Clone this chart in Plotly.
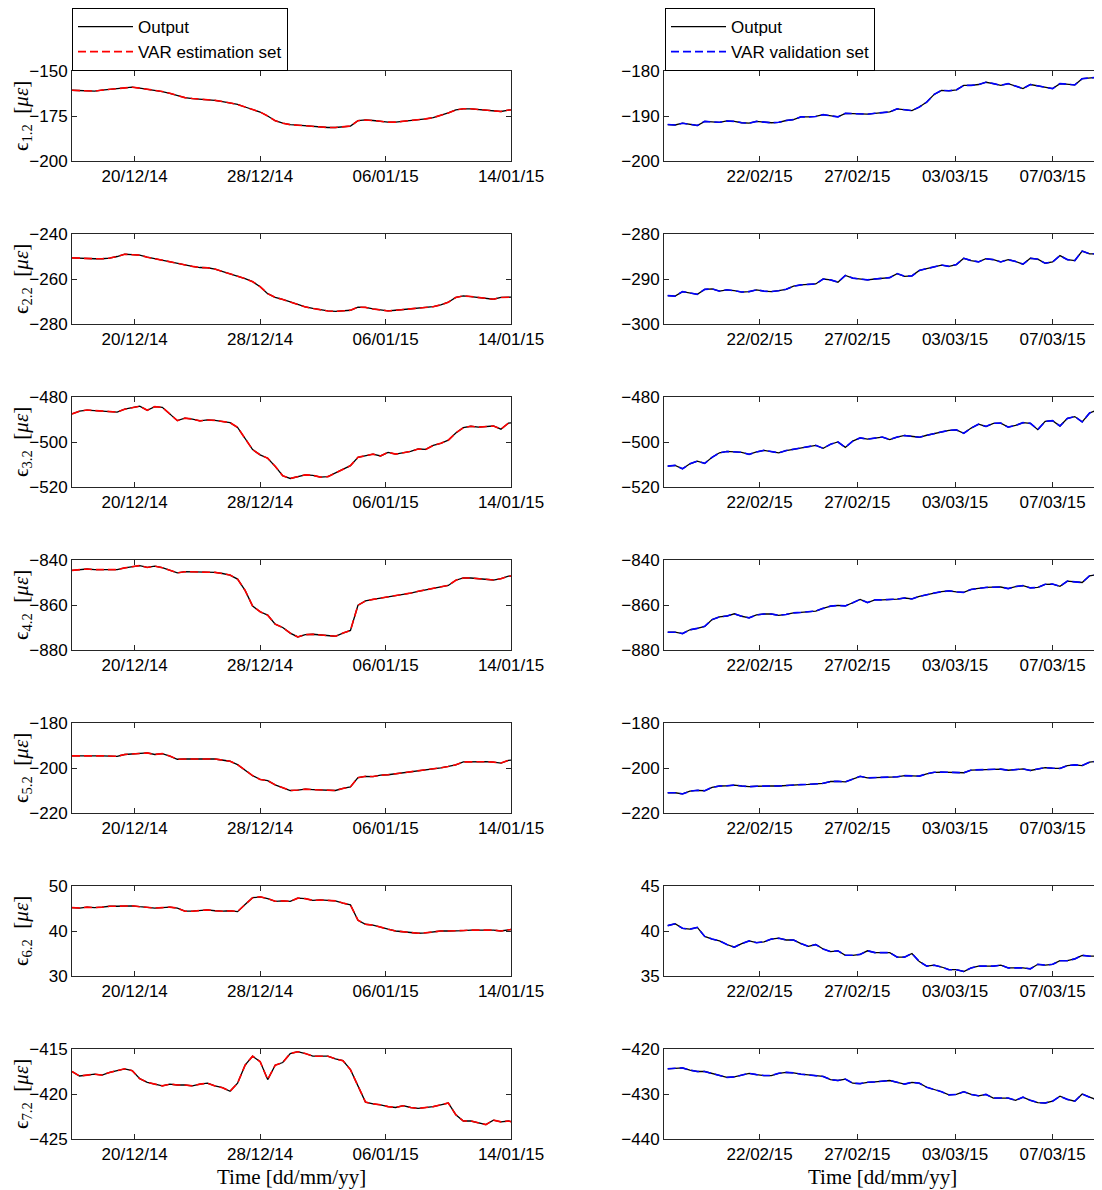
import pandas as pd
import plotly.graph_objects as go
from plotly.subplots import make_subplots

# sample times (estimation set every 12 h, validation set every 8 h)
est_time = pd.date_range("2014-12-16 08:00", periods=60, freq="12h")
val_time = pd.date_range("2015-02-18 12:40", periods=60, freq="8h")

# estimation set (left column)
est_1 = [-160.7, -160.8, -161, -161.2, -160.6, -160.2, -159.7, -159.2, -159, -159.5,
         -160.1, -160.6, -161.4, -162.4, -163.8, -164.8, -165.3, -165.6, -165.8, -166.3,
         -167, -167.6, -168.6, -170, -171.2, -172.8, -175, -177.6, -179, -179.8,
         -180.1, -180.5, -180.8, -181.2, -181.4, -181.4, -181.2, -180.6, -177.6, -177.2,
         -177.5, -178.1, -178.4, -178.4, -178, -177.8, -177.4, -176.6, -175.9, -174.8,
         -173.3, -171.6, -171, -171, -171.3, -171.8, -172.3, -172.5, -171.7, -171.5]
est_2 = [-250.6, -250.8, -250.8, -251, -251, -250.7, -250, -249, -249.2, -249.4,
         -250.3, -251, -251.8, -252.5, -252.9, -253.6, -254.4, -254.9, -255, -255.6,
         -256.6, -257.5, -258.6, -259.8, -261.2, -263.4, -266.5, -268.2, -269.1, -270.2,
         -271.6, -272.4, -273.1, -273.8, -274.2, -274.4, -274.3, -273.9, -272.5, -272.6,
         -273.3, -273.7, -274.2, -273.9, -273.6, -273.3, -273, -272.8, -272.3, -271.5,
         -270.3, -268.2, -267.5, -267.8, -268.3, -268.7, -269, -268.2, -268.1, -268]
est_3 = [-487.5, -486.3, -485.8, -486, -486.1, -486.3, -486.7, -485.4, -484.8, -484.1,
         -485.9, -484.3, -484.6, -487.5, -490.5, -489.4, -489.8, -490.6, -490.2, -490.4,
         -490.8, -491.4, -493.5, -498.4, -503.4, -505.7, -507.2, -510.8, -515, -516.2,
         -515.3, -514.6, -514.8, -515.6, -515.4, -513.8, -512.3, -510.5, -506.8, -506.2,
         -505.4, -506.2, -504.6, -505.4, -504.9, -504.2, -503.1, -503.3, -501.5, -500.6,
         -499.2, -496, -493.6, -493, -493.4, -493.3, -492.9, -494.3, -491.6, -491.3]
est_4 = [-844.6, -844.3, -844, -844.3, -844.4, -844.5, -844.3, -843.5, -843, -842.5,
         -843.3, -842.7, -843.4, -844.5, -845.7, -845.2, -845.2, -845.3, -845.3, -845.5,
         -846, -846.7, -848.5, -853.5, -860.5, -863, -864.5, -868.5, -870, -872.5,
         -874.2, -873.2, -873, -873.3, -873.4, -873.9, -872.5, -871.3, -860.1, -858.2,
         -857.5, -857, -856.5, -855.9, -855.4, -854.7, -853.9, -853.3, -852.6, -852,
         -851.3, -849, -848, -848, -848.3, -848.6, -848.9, -848.3, -847.2, -847]
est_5 = [-194.6, -194.5, -194.6, -194.6, -194.6, -194.6, -194.8, -194, -193.8, -193.5,
         -193.3, -194, -193.6, -194.7, -196.1, -196, -195.9, -195.9, -196, -196,
         -196.4, -197, -198.5, -200.9, -203.4, -205.1, -205.6, -207.5, -208.9, -210,
         -209.8, -209.4, -209.6, -209.7, -209.9, -210, -209.1, -208.4, -204.3, -203.7,
         -203.8, -203.2, -203, -202.6, -202.2, -201.8, -201.4, -201, -200.5, -199.9,
         -199.3, -198.6, -197.3, -197.2, -197.3, -197.2, -197.4, -197.8, -196.6, -196.4]
est_6 = [45.2, 45.1, 45.3, 45.2, 45.3, 45.5, 45.5, 45.5, 45.6, 45.4,
         45.2, 45.1, 45.2, 45.3, 45.1, 44.4, 44.4, 44.5, 44.7, 44.5,
         44.4, 44.5, 44.3, 45.9, 47.4, 47.6, 47.2, 46.6, 46.7, 46.6,
         47.3, 47.2, 46.8, 46.9, 46.8, 46.7, 46.2, 45.8, 42.4, 41.5,
         41.3, 40.8, 40.4, 40, 39.8, 39.7, 39.5, 39.6, 39.8, 40,
         40, 40, 40.1, 40.2, 40.2, 40.1, 40.2, 40, 40.3, 40.5]
est_7 = [-417.5, -418, -417.9, -417.8, -417.9, -417.6, -417.4, -417.2, -417.4, -418.3,
         -418.7, -418.9, -419.1, -418.9, -419, -419, -419.1, -418.9, -418.8, -419.1,
         -419.3, -419.7, -418.8, -416.8, -415.8, -416.4, -418.4, -416.8, -416.5, -415.5,
         -415.3, -415.5, -415.8, -415.8, -415.8, -416.1, -416.3, -417.3, -419.2, -420.9,
         -421.1, -421.2, -421.4, -421.5, -421.3, -421.5, -421.6, -421.5, -421.4, -421.2,
         -421, -422.3, -423, -423, -423.2, -423.4, -422.9, -423.1, -423, -423.2]

# validation set (right column)
val_1 = [-191.9, -192, -191.6, -191.8, -192.1, -191.2, -191.3, -191.4, -191.1, -191.2,
         -191.5, -191.6, -191.2, -191.4, -191.5, -191.4, -191, -190.8, -190.2, -190.2,
         -190.1, -189.7, -190, -190.2, -189.4, -189.5, -189.5, -189.6, -189.4, -189.3,
         -189.1, -188.4, -188.6, -188.8, -188, -186.9, -185.2, -184.3, -184.4, -184.2,
         -183.2, -183.2, -183, -182.5, -182.8, -183.2, -182.8, -183.3, -183.9, -183,
         -183.3, -183.7, -183.9, -182.8, -182.9, -183.1, -181.7, -181.5, -181.4, -180.2]
val_2 = [-293.7, -293.8, -292.8, -293.1, -293.4, -292.3, -292.2, -292.7, -292.4, -292.6,
         -292.9, -292.8, -292.4, -292.7, -292.8, -292.6, -292.3, -291.6, -291.3, -291.2,
         -291.1, -290, -290.2, -290.7, -289.2, -289.8, -290, -290.2, -290, -289.9,
         -289.7, -288.8, -289.4, -289.3, -288.1, -287.7, -287.3, -286.9, -287.2, -286.8,
         -285.4, -285.9, -286.2, -285.5, -285.7, -286.2, -285.7, -286.1, -286.7, -285.4,
         -285.6, -286.5, -286.2, -284.8, -285.7, -285.9, -283.8, -284.4, -284.4, -282.4]
val_3 = [-510.7, -510.4, -511.9, -509.7, -508.5, -509.5, -506.8, -504.8, -504.2, -504.3,
         -504.6, -505.5, -504.4, -503.7, -504.3, -504.8, -503.8, -503.3, -502.5, -502,
         -501.5, -502.8, -501, -500, -502.4, -499.6, -498.2, -498.7, -498.3, -497.8,
         -498.9, -497.8, -497.1, -497.4, -497.9, -497, -496.3, -495.8, -494.8, -494.6,
         -496.1, -493.8, -492.1, -493.1, -491.7, -491.6, -493.4, -492.6, -491.4, -491.7,
         -494.5, -490.8, -490.5, -492.9, -489.5, -488.7, -491.1, -487.1, -485.8, -487.6]
val_4 = [-872.1, -872.1, -872.7, -871, -870.4, -869.5, -866.5, -865.3, -864.9, -863.9,
         -865, -865.7, -864.4, -864, -864, -864.6, -864.2, -863.5, -863.3, -863,
         -862.7, -861.5, -860.5, -860.2, -860.4, -859, -857.5, -858.9, -857.7, -857.7,
         -857.7, -857.4, -856.9, -857.3, -856.2, -855.3, -854.7, -854.1, -853.7, -854.2,
         -854.4, -853.1, -852.5, -852.2, -852.1, -852, -852.7, -851.8, -851.4, -852.4,
         -852.2, -850.8, -850.7, -851.7, -849.4, -849.6, -850, -847, -846.5, -847.6]
val_5 = [-211, -211, -211.5, -210.3, -209.9, -210.1, -208.6, -208, -207.9, -207.6,
         -208, -208.3, -208.1, -207.9, -208, -208, -207.7, -207.5, -207.4, -207.3,
         -207.1, -206.8, -206, -205.9, -206.2, -204.8, -203.7, -204.4, -204.3, -204.2,
         -204, -203.9, -203.4, -203.5, -203.6, -202.6, -201.9, -201.8, -201.8, -201.8,
         -202.1, -200.9, -200.8, -200.7, -200.6, -200.5, -201, -200.6, -200.4, -201.1,
         -200.4, -199.8, -200.1, -200.2, -198.9, -198.6, -198.9, -197.4, -197, -197.7]
val_6 = [40.6, 40.8, 40.3, 40.2, 40.4, 39.4, 39.1, 38.9, 38.5, 38.2,
         38.6, 38.9, 38.7, 38.8, 39.1, 39.2, 39, 39, 38.6, 38.3,
         38.5, 38, 37.7, 37.8, 37.3, 37.3, 37.4, 37.8, 37.6, 37.6,
         37.6, 37.1, 37.1, 37.5, 36.6, 36.1, 36.2, 36, 35.7, 35.7,
         35.5, 35.9, 36.1, 36.1, 36.1, 36.2, 35.9, 35.9, 35.9, 35.8,
         36.3, 36.2, 36.3, 36.7, 36.7, 36.9, 37.3, 37.2, 37.2, 37.2]
val_7 = [-424.4, -424.3, -424.2, -424.7, -425, -425, -425.4, -425.8, -426.3, -426.2,
         -425.8, -425.4, -425.7, -425.9, -425.9, -425.4, -425.2, -425.3, -425.6, -425.8,
         -425.9, -426.1, -426.8, -427, -426.7, -427.6, -427.7, -427.4, -427.3, -427.2,
         -427, -427.4, -427.8, -427.4, -427.6, -428.5, -429, -429.5, -430.2, -430.1,
         -429.5, -430.1, -430.4, -430.1, -430.9, -430.9, -430.9, -431.4, -430.7, -431.4,
         -431.9, -432, -431.6, -430.5, -431.2, -431.6, -430, -430.7, -431.3, -430.3]

est_series = [est_1, est_2, est_3, est_4, est_5, est_6, est_7]
val_series = [val_1, val_2, val_3, val_4, val_5, val_6, val_7]

# y limits per row
est_ylim = [(-200, -150), (-280, -240), (-520, -480), (-880, -840), (-220, -180), (30, 50), (-425, -415)]
val_ylim = [(-200, -180), (-300, -280), (-520, -480), (-880, -840), (-220, -180), (35, 45), (-440, -420)]

ylabels = ["1.2", "2.2", "3.2", "4.2", "5.2", "6.2", "7.2"]

est_ticks = ["2014-12-20 12:00", "2014-12-28 20:00", "2015-01-06 04:00", "2015-01-14 12:00"]
est_ticklabels = ["20/12/14", "28/12/14", "06/01/15", "14/01/15"]
val_ticks = ["2015-02-22 16:00", "2015-02-27 01:36", "2015-03-03 11:12", "2015-03-07 20:48"]
val_ticklabels = ["22/02/15", "27/02/15", "03/03/15", "07/03/15"]

# page has an 8px body margin, so the figure is a bit smaller than the window
OFF = 8
W, H = 1102 - OFF, 1190 - OFF
SANS = "Liberation Sans, Arial, sans-serif"
SERIF = "Liberation Serif, Times New Roman, serif"
AXCOL = "#262626"


def px(x):
    return (x - OFF) / W


def py(y):
    return 1 - (y - OFF) / H


fig = make_subplots(rows=7, cols=2)

for i in range(7):
    top = 71 + i * 163
    bot = top + 90
    ydom = [py(bot), py(top)]
    for col, (tt, series, ylim, color, name, leg, ticks, labels, xr) in enumerate([
        (est_time, est_series, est_ylim, "#ff0000", "VAR estimation set", "legend",
         est_ticks, est_ticklabels, ["2014-12-16 08:00", "2015-01-14 12:00"]),
        (val_time, val_series, val_ylim, "#0000ff", "VAR validation set", "legend2",
         val_ticks, val_ticklabels, ["2015-02-18 08:40", "2015-03-10 01:00"]),
    ]):
        fig.add_trace(go.Scatter(x=tt, y=series[i], mode="lines", name="Output",
                                 line=dict(color="black", width=1.3),
                                 showlegend=(i == 0), legend=leg),
                      row=i + 1, col=col + 1)
        fig.add_trace(go.Scatter(x=tt, y=series[i], mode="lines", name=name,
                                 line=dict(color=color, width=1.6, dash="8px,4px"),
                                 showlegend=(i == 0), legend=leg),
                      row=i + 1, col=col + 1)
        xdom = [px(72), px(511)] if col == 0 else [px(664), min(px(1101), 1)]
        lo, hi = ylim[i]
        fig.update_xaxes(domain=xdom, range=xr, tickvals=ticks, ticktext=labels,
                         automargin=False, showgrid=False, zeroline=False,
                         showline=True, mirror="ticks",
                         linecolor=AXCOL, linewidth=1, ticks="inside", ticklen=5,
                         tickcolor=AXCOL, tickfont=dict(family=SANS, size=17, color="black"),
                         row=i + 1, col=col + 1)
        fig.update_yaxes(domain=ydom, range=[lo, hi], tick0=lo, dtick=(hi - lo) / 2,
                         automargin=False, showgrid=False, zeroline=False,
                         showline=True, mirror="ticks",
                         linecolor=AXCOL, linewidth=1, ticks="inside", ticklen=5,
                         tickcolor=AXCOL, tickfont=dict(family=SANS, size=17, color="black"),
                         row=i + 1, col=col + 1)
    # y label on the left column only
    fig.add_annotation(text="\u03f5<sub>" + ylabels[i] + "</sub>\u2002[<i>\u03bc\u03b5</i>]",
                       xref="paper", yref="paper", x=px(22), y=py(top + 45),
                       textangle=-90, showarrow=False, xanchor="center", yanchor="middle",
                       font=dict(family=SERIF, size=21, color="black"))

# x labels under the bottom row
for cx in [(72 + 511) / 2, (664 + 1101) / 2]:
    fig.add_annotation(text="Time [dd/mm/yy]", xref="paper", yref="paper",
                       x=px(cx), y=py(1177), showarrow=False,
                       xanchor="center", yanchor="middle",
                       font=dict(family=SERIF, size=21, color="black"))

legend_style = dict(bgcolor="white", bordercolor="black", borderwidth=1,
                    font=dict(family=SANS, size=17, color="black"),
                    itemwidth=55, xanchor="left", yanchor="top", tracegroupgap=0)
fig.update_layout(
    template="none",
    width=W, height=H,
    margin=dict(l=0, r=0, t=0, b=0, autoexpand=False),
    paper_bgcolor="white", plot_bgcolor="white",
    legend=dict(x=px(72), y=1, **legend_style),
    legend2=dict(x=px(665), y=1, **legend_style),
)

fig.write_html("out.html")
